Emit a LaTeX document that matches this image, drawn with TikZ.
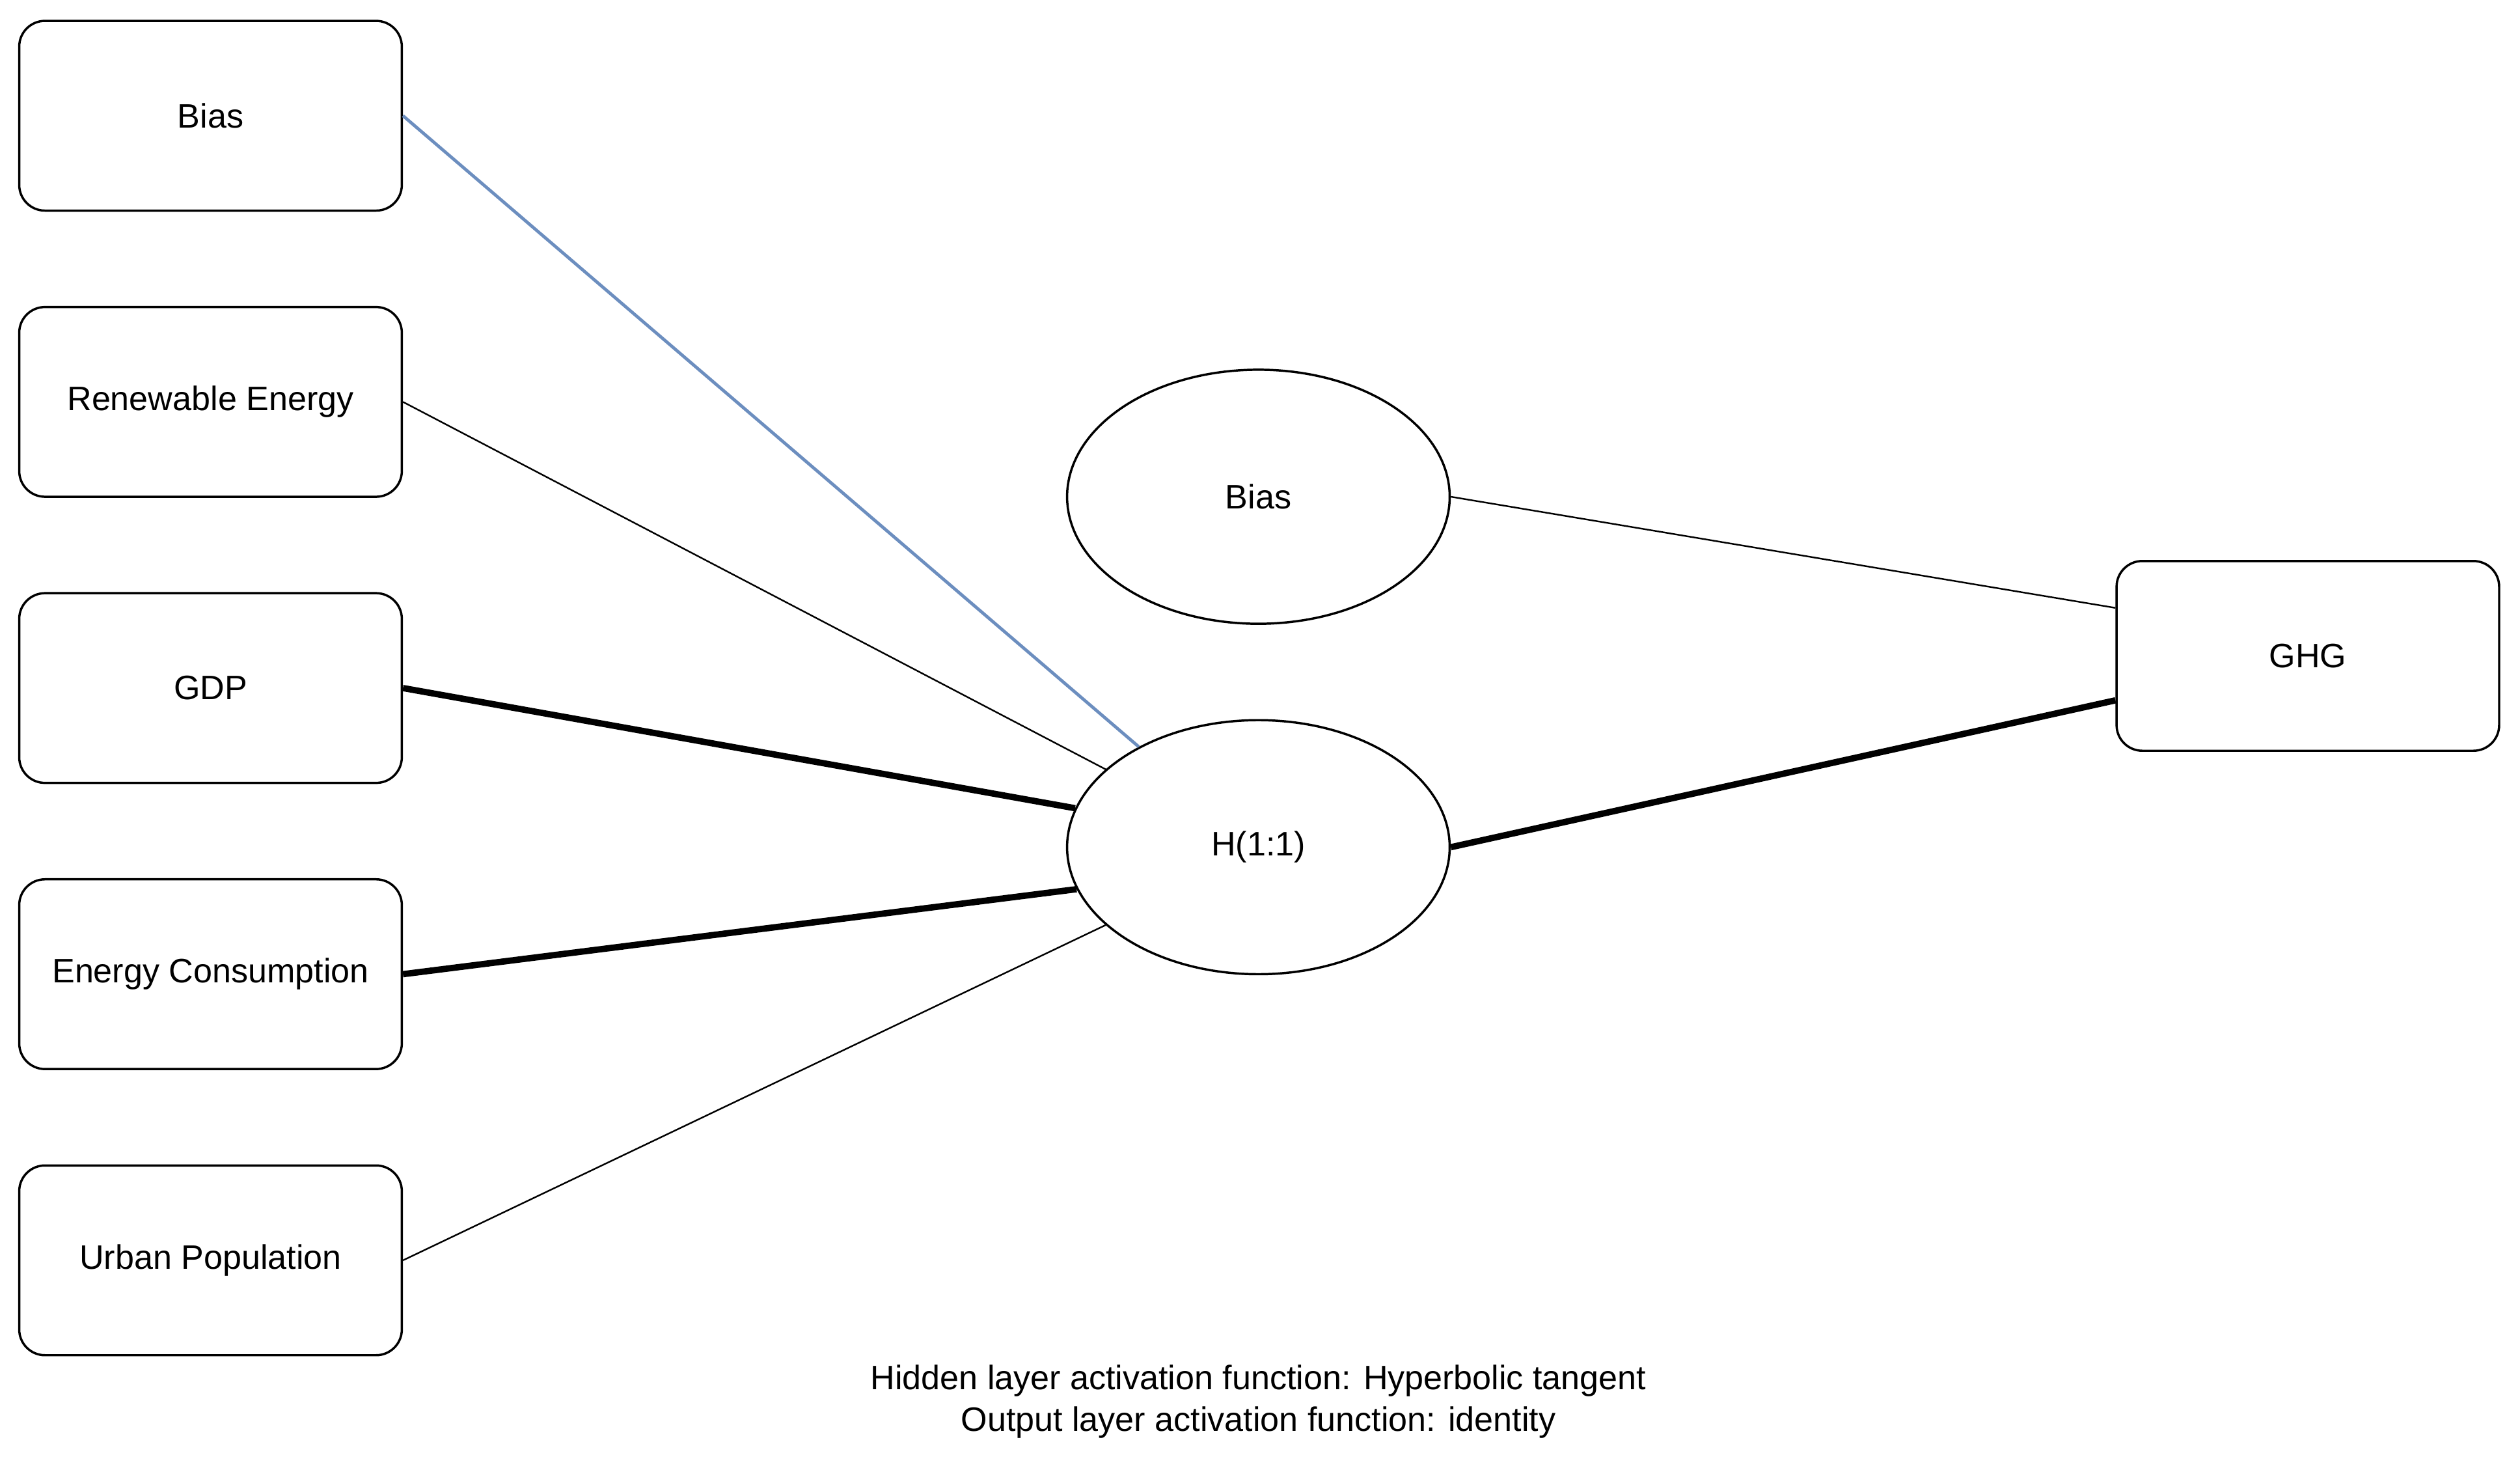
\documentclass[tikz,border=0pt]{standalone}
\usepackage{fontspec}
\setmainfont{Liberation Sans}
\usetikzlibrary{shapes.geometric}
\begin{document}
\begin{tikzpicture}[x=0.025cm,y=-0.025cm,
 box/.style={draw,line width=1pt,rounded corners=0.4cm,minimum width=5.95cm,minimum height=2.95cm,font=\fontsize{15}{18}\selectfont},
 ell/.style={draw,ellipse,line width=1pt,minimum width=5.95cm,minimum height=3.95cm,inner sep=0pt,font=\fontsize{15}{18}\selectfont},
 thin/.style={line width=0.7pt},
 thick/.style={line width=2.8pt},
 blue/.style={line width=1.4pt,draw={rgb,255:red,108;green,142;blue,191}}]
\useasboundingbox (0,0) rectangle (1568,913);
\node[box] (b1) at (131,72) {Bias};
\node[box] (re) at (131,250) {Renewable Energy};
\node[box] (gdp) at (131,428) {GDP};
\node[box] (ec) at (131,606) {Energy Consumption};
\node[box] (up) at (131,784) {Urban Population};
\node[ell] (b2) at (783,309) {Bias};
\node[ell] (h) at (783,527) {H(1:1)};
\node[box] (g) at (1436,408) {GHG};
\draw[blue] (b1.east) -- (h.140);
\draw[thin] (re.east) -- (h.153);
\draw[thick] (gdp.east) -- (h.168);
\draw[thick] (ec.east) -- (h.193);
\draw[thin] (up.east) -- (h.207);
\draw[thick] (h.east) -- (g.193.7);
\draw[thin] (b2.east) -- (g.166.3);
\node[align=center,font=\fontsize{15}{18.5}\selectfont] (cap) at (783,872) {Hidden layer activation function: Hyperbolic tangent\\Output layer activation function: identity};
\end{tikzpicture}
\end{document}
